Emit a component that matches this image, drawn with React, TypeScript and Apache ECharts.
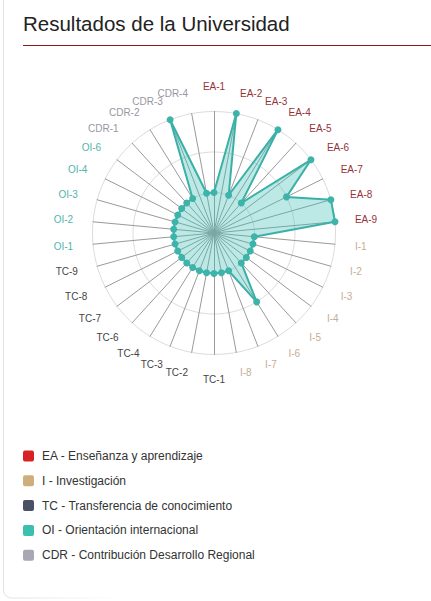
import React, { useEffect, useRef } from "react";
import * as echarts from "echarts";

// Indicators in clockwise order starting at the top
const eaNames = ["EA-1", "EA-2", "EA-3", "EA-4", "EA-5", "EA-6", "EA-7", "EA-8", "EA-9"];
const eaValues = [1, 3, 1, 3, 1, 3, 2, 3, 3];
const iNames = ["I-1", "I-2", "I-3", "I-4", "I-5", "I-6", "I-7", "I-8"];
const iValues = [1, 1, 1, 1, 1, 2, 1, 1];
const tcNames = ["TC-1", "TC-2", "TC-3", "TC-4", "TC-6", "TC-7", "TC-8", "TC-9"];
const tcValues = [1, 1, 1, 1, 1, 1, 1, 1];
const oiNames = ["OI-1", "OI-2", "OI-3", "OI-4", "OI-6"];
const oiValues = [1, 1, 1, 1, 1];
const cdrNames = ["CDR-1", "CDR-2", "CDR-3", "CDR-4"];
const cdrValues = [1, 1, 3, 1];

const maxValue = 3;

const legendLabels = [
  "EA - Enseñanza y aprendizaje",
  "I - Investigación",
  "TC - Transferencia de conocimiento",
  "OI - Orientación internacional",
  "CDR - Contribución Desarrollo Regional",
];
const legendColors = ["#d62224", "#cfae7e", "#4a5165", "#3cbfae", "#a8a8b4"];
const nameColors = ["#963238", "#c4ad96", "#444444", "#4fb5ab", "#97979f"];

const title = "Resultados de la Universidad";

export default function App() {
  const ref = useRef<HTMLDivElement>(null);
  useEffect(() => {
    document.body.style.margin = "0";
    if (!ref.current) return;
    const chart = echarts.init(ref.current, null, { renderer: "svg" });

    const groups = [
      { names: eaNames, values: eaValues, color: nameColors[0] },
      { names: iNames, values: iValues, color: nameColors[1] },
      { names: tcNames, values: tcValues, color: nameColors[2] },
      { names: oiNames, values: oiValues, color: nameColors[3] },
      { names: cdrNames, values: cdrValues, color: nameColors[4] },
    ];
    const cwInd: any[] = [];
    const cwVal: number[] = [];
    groups.forEach((g) => {
      g.names.forEach((n, i) => {
        cwInd.push({ name: n, max: maxValue, min: 0, color: g.color });
        cwVal.push(g.values[i]);
      });
    });
    // ECharts draws counter-clockwise; reverse all but the first to get clockwise
    const indicator = [cwInd[0], ...cwInd.slice(1).reverse()];
    const values = [cwVal[0], ...cwVal.slice(1).reverse()];

    const legendGraphics: any[] = [];
    legendLabels.forEach((lab, i) => {
      const cy = 456 + i * 24.8;
      legendGraphics.push({
        type: "rect",
        shape: { x: 23, y: cy - 5.5, width: 11, height: 11, r: 2 },
        style: { fill: legendColors[i] },
      });
      legendGraphics.push({
        type: "text",
        x: 42,
        y: cy,
        style: {
          text: lab,
          fill: "#333",
          font: "12px 'Liberation Sans', Arial, sans-serif",
          textVerticalAlign: "middle",
          verticalAlign: "middle",
        },
      });
    });

    chart.setOption({
      animation: false,
      backgroundColor: "#fff",
      radar: {
        center: [214, 233],
        radius: 121.5,
        startAngle: 90,
        splitNumber: 3,
        shape: "circle",
        indicator,
        axisName: {
          fontSize: 10,
          fontFamily: "'Liberation Sans', Arial, sans-serif",
        },
        nameGap: 20,
        axisLine: { lineStyle: { color: "#9a9a9a", width: 1 } },
        splitLine: { lineStyle: { color: "#dcdcdc", width: 1 } },
        splitArea: { show: false },
      },
      series: [
        {
          type: "radar",
          symbol: "circle",
          symbolSize: 7,
          data: [
            {
              value: values,
              itemStyle: { color: "#3db3a9" },
              lineStyle: { color: "#3aaea4", width: 2 },
              areaStyle: { color: "rgba(64,190,182,0.5)" },
            },
          ],
        },
      ],
      graphic: [
        {
          type: "line",
          shape: { x1: 3.5, y1: 0, x2: 3.5, y2: 590 },
          style: { stroke: "#e2e2e2", lineWidth: 1 },
        },
        {
          type: "arc",
          shape: { cx: 11.5, cy: 590, r: 8, startAngle: Math.PI / 2, endAngle: Math.PI },
          style: { stroke: "#e2e2e2", lineWidth: 1, fill: "none" },
        },
        {
          type: "line",
          shape: { x1: 11.5, y1: 598, x2: 120, y2: 598 },
          style: {
            stroke: new echarts.graphic.LinearGradient(11, 0, 120, 0, [
              { offset: 0, color: "#e2e2e2" },
              { offset: 1, color: "rgba(226,226,226,0)" },
            ], true),
            lineWidth: 1,
          },
        },
        {
          type: "text",
          x: 23,
          y: 23,
          style: {
            text: title,
            fill: "#222",
            font: "20.5px 'Liberation Sans', Arial, sans-serif",
            textVerticalAlign: "middle",
            verticalAlign: "middle",
          },
        },
        {
          type: "line",
          shape: { x1: 23, y1: 45.5, x2: 431, y2: 45.5 },
          style: { stroke: "#8b1a1a", lineWidth: 1 },
        },
        ...legendGraphics,
      ],
    });
    return () => chart.dispose();
  }, []);
  return <div ref={ref} style={{ width: 431, height: 601 }} />;
}
